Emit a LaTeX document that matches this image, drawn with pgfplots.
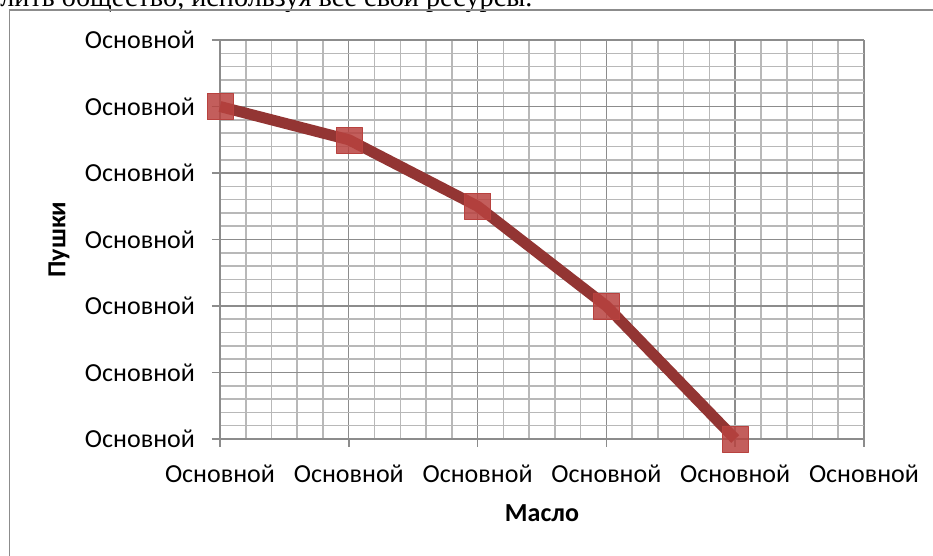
\documentclass[border=0pt]{standalone}
\usepackage{pgfplots}
\pgfplotsset{compat=1.18}
\usepackage{fontspec}
\setmainfont{Carlito}
\newfontfamily\serifru{Liberation Serif}
\definecolor{gridmaj}{HTML}{8C8C8C}
\definecolor{gridmin}{HTML}{B8B8B8}
\definecolor{linered}{HTML}{933533}
\definecolor{markred}{HTML}{B8423F}
\begin{document}
\begin{tikzpicture}[x=1pt,y=1pt]
\useasboundingbox (0,0) rectangle (466.5,278);
\begin{scope}
\clip (0,0) rectangle (466.5,278);
\node[anchor=base west,inner sep=0pt,font=\serifru\fontsize{14.1}{16}\selectfont] at (0,274.5) {лить общество, используя все свои ресурсы.};
\draw[gridmaj,line width=0.8pt] (4.75,-5) -- (4.75,273) -- (480,273);
\end{scope}
\begin{axis}[
  at={(110pt,58.5pt)}, anchor=origin,
  scale only axis, width=322pt, height=199.5pt,
  xmin=0, xmax=5, ymin=0, ymax=6,
  xtick={0,1,2,3,4,5}, ytick={0,1,2,3,4,5,6},
  xticklabels={Основной,Основной,Основной,Основной,Основной,Основной},
  yticklabels={Основной,Основной,Основной,Основной,Основной,Основной,Основной},
  minor x tick num=4, minor y tick num=4,
  grid=both,
  major grid style={gridmaj,line width=0.7pt},
  minor grid style={gridmin,line width=0.8pt},
  axis x line*=bottom, axis y line*=left,
  axis line style={gridmaj,line width=0.8pt,-},
  tick align=outside,
  major tick length=4pt, minor tick length=0pt,
  tick style={gridmaj,line width=0.8pt},
  ticklabel style={font=\fontsize{13}{15}\selectfont},
  xticklabel style={yshift=-5.5pt},
  yticklabel style={xshift=-5pt},
  xlabel={\textbf{Масло}}, ylabel={\textbf{Пушки}},
  label style={font=\bfseries\fontsize{13}{15}\selectfont},
  xlabel style={at={(axis description cs:0.5,0)},anchor=center,yshift=-37pt},
  ylabel style={at={(axis description cs:0,0.5)},anchor=center,yshift=80.5pt},
  clip=false,
]
\addplot[linered, line width=5.5pt, line join=round, mark=square*, mark size=6.5pt,
  mark options={solid, line width=0.1pt, fill=markred, draw=markred, fill opacity=0.85}]
  coordinates {(0,5) (1,4.5) (2,3.5) (3,2) (4,0)};
\end{axis}
\end{tikzpicture}
\end{document}
